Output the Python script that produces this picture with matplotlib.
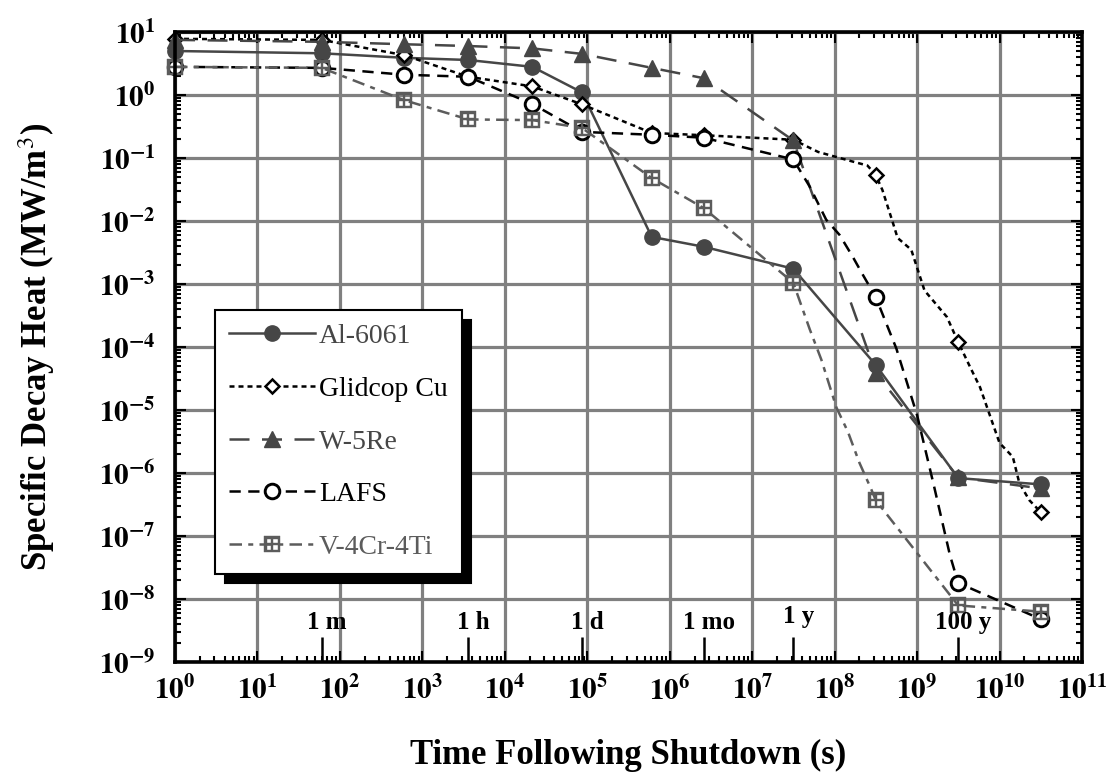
import numpy as np
import matplotlib
matplotlib.use('Agg')
import matplotlib.pyplot as plt
from matplotlib.path import Path
from matplotlib.ticker import LogLocator, FuncFormatter, NullFormatter

plt.rcParams['font.family'] = ['Liberation Serif', 'DejaVu Serif']
plt.rcParams['mathtext.fontset'] = 'stix'

# decay heat data (time in s, heat in MW/m^3)
t_al = [1, 60, 600, 3600, 21600, 86400, 604800, 2.59e6, 3.15e7, 3.15e8, 3.15e9, 3.15e10]
al = [5.0, 4.6, 3.9, 3.6, 2.8, 1.1, 5.6e-3, 3.9e-3, 1.75e-3, 5.2e-5, 8.3e-7, 6.6e-7]

t_cu = [1, 60, 600, 3600, 21600, 86400, 604800, 2.59e6, 3.15e7, 6.3e7, 1.6e8, 2.5e8,
        3.15e8, 3.8e8, 5.1e8, 5.8e8, 8.5e8, 1.23e9, 2.3e9, 3.15e9, 4.4e9, 5.8e9,
        1.0e10, 1.45e10, 1.74e10, 2.3e10, 3.15e10]
cu = [7.8, 7.5, 4.3, 1.95, 1.37, 0.71, 0.25, 0.23, 0.195, 0.125, 0.089, 0.076,
      0.054, 0.031, 9.3e-3, 5.4e-3, 3.5e-3, 7.9e-4, 3.0e-4, 1.2e-4, 4.8e-5, 2.3e-5,
      3.0e-6, 1.8e-6, 6.9e-7, 3.7e-7, 2.4e-7]
mk_cu = [0, 1, 2, 3, 4, 5, 6, 7, 8, 12, 19, 26]

t_w = [1, 60, 600, 3600, 21600, 86400, 604800, 2.59e6, 3.15e7, 3.15e8, 3.15e9, 3.15e10]
w = [7.5, 7.0, 6.4, 6.0, 5.5, 4.5, 2.7, 1.85, 0.19, 3.9e-5, 8.5e-7, 5.7e-7]

t_lafs = [1, 60, 600, 3600, 21600, 86400, 604800, 2.59e6, 3.15e7, 5.0e7, 7.9e7,
          1.15e8, 1.66e8, 2.2e8, 3.15e8, 5.6e8, 1.0e9, 1.6e9, 2.5e9, 3.15e9, 3.15e10]
lafs = [2.8, 2.7, 2.1, 1.95, 0.72, 0.26, 0.234, 0.21, 0.095, 0.035, 0.0105,
        6.0e-3, 2.7e-3, 1.4e-3, 6.2e-4, 9.5e-5, 8.3e-6, 6.3e-7, 5.0e-8, 1.8e-8, 4.8e-9]
mk_lafs = [0, 1, 2, 3, 4, 5, 6, 7, 8, 14, 19, 20]

t_v = [1, 60, 600, 3600, 21600, 86400, 604800, 2.59e6, 3.15e7, 5.0e7, 6.9e7,
       1.05e8, 1.45e8, 2.0e8, 2.8e8, 3.15e8, 3.15e9, 3.15e10]
v = [2.8, 2.7, 0.83, 0.41, 0.40, 0.30, 0.048, 0.016, 1.05e-3, 1.9e-4, 6.3e-5,
     1.1e-5, 4.5e-6, 1.45e-6, 5.4e-7, 3.7e-7, 7.9e-9, 6.3e-9]
mk_v = [0, 1, 2, 3, 4, 5, 6, 7, 8, 15, 16, 17]

mark_times = [60, 3600, 86400, 2.59e6, 3.15e7, 3.15e9]
mark_labels = ['1 m', '1 h', '1 d', '1 mo', '1 y', '100 y']


def grid_square():
    # gray square with four white windows
    verts, codes = [], []

    def sq(x0, y0, x1, y1, rev=False):
        pts = [(x0, y0), (x1, y0), (x1, y1), (x0, y1)]
        if rev:
            pts = pts[::-1]
        verts.extend(pts + [pts[0]])
        codes.extend([Path.MOVETO, Path.LINETO, Path.LINETO, Path.LINETO, Path.CLOSEPOLY])

    sq(-1, -1, 1, 1)
    for a, b in [(0.17, 0.72), (-0.72, -0.17)]:
        for c, d in [(0.17, 0.72), (-0.72, -0.17)]:
            sq(a, c, b, d, rev=True)
    return Path(verts, codes)


fig = plt.figure(figsize=(11.12, 7.72), dpi=100)
ax = fig.add_axes([0.1574, 0.1425, 0.8156, 0.816])

dark = '#464646'
mid = '#5c5c5c'
lw = 1.8

ax.plot(t_al, al, color=dark, lw=lw, marker='o', ms=11, mec=dark, mfc=dark,
        label='Al-6061', clip_on=False)
ax.plot(t_cu, cu, color='black', lw=lw, ls=(0, (2, 1.6)), marker='D', ms=7.5,
        mfc='white', mec='black', mew=1.8, markevery=mk_cu, label='Glidcop Cu', clip_on=False)
ax.plot(t_w, w, color=dark, lw=lw, ls=(0, (8, 5)), marker='^', ms=12, mfc=dark,
        mec=dark, label='W-5Re', clip_on=False)
ax.plot(t_lafs, lafs, color='black', lw=lw, ls=(0, (4.5, 3)), marker='o', ms=10.5,
        mfc='white', mec='black', mew=2.1, markevery=mk_lafs, label='LAFS', clip_on=False)
ax.plot(t_v, v, color=mid, lw=lw, ls=(0, (5, 2.5, 2, 2.5)), marker=grid_square(), ms=11,
        mfc=mid, mec=mid, mew=0.3, markevery=mk_v, label='V-4Cr-4Ti', clip_on=False)

ax.set_xscale('log')
ax.set_yscale('log')
ax.set_xlim(1, 1e11)
ax.set_ylim(1e-9, 1e1)

ax.xaxis.set_major_locator(LogLocator(base=10, numticks=20))
ax.yaxis.set_major_locator(LogLocator(base=10, numticks=20))
ax.xaxis.set_minor_locator(LogLocator(base=10, subs=np.arange(2, 10), numticks=20))
ax.yaxis.set_minor_locator(LogLocator(base=10, subs=np.arange(2, 10), numticks=20))
fmt = FuncFormatter(lambda val, pos: r'$\mathbf{10^{%d}}$' % round(np.log10(val)))
ax.xaxis.set_major_formatter(fmt)
ax.yaxis.set_major_formatter(fmt)
ax.xaxis.set_minor_formatter(NullFormatter())
ax.yaxis.set_minor_formatter(NullFormatter())

ax.tick_params(which='both', direction='in', top=True, right=True, width=1.5,
               color='black')
ax.tick_params(which='major', length=8, labelsize=21)
ax.tick_params(which='minor', length=4)
ax.tick_params(axis='x', which='major', pad=10)
ax.tick_params(axis='y', which='major', pad=14)

ax.grid(True, which='major', color='#808080', lw=2.3)
ax.set_axisbelow(True)
for s in ax.spines.values():
    s.set_linewidth(2.6)

# time markers along the bottom
ax.vlines(mark_times, 1e-9, 10 ** -8.6, color='black', lw=1.8)
for tm, lab in zip(mark_times, mark_labels):
    yy = 10 ** -8.28 if lab == '1 y' else 10 ** -8.38
    ax.text(tm * 1.15, yy, lab, ha='center', va='center', fontsize=18,
            fontweight='bold')

ax.set_xlabel('Time Following Shutdown (s)', fontsize=25, fontweight='bold', labelpad=24)
ax.set_ylabel('Specific Decay Heat (MW/m$^{3}$)', fontsize=25, fontweight='bold',
              labelpad=30)

leg = ax.legend(loc='upper left', bbox_to_anchor=(0.044, 0.559), borderaxespad=0,
                fontsize=20, frameon=True, fancybox=False, edgecolor='black',
                framealpha=1, handlelength=3.1, handletextpad=0.15, labelspacing=0.98,
                borderpad=0.5, labelcolor='linecolor',
                shadow={'ox': 7, 'oy': -7, 'color': 'black', 'alpha': 1})
leg.get_frame().set_linewidth(1.5)

fig.savefig('out.png', dpi=100)
